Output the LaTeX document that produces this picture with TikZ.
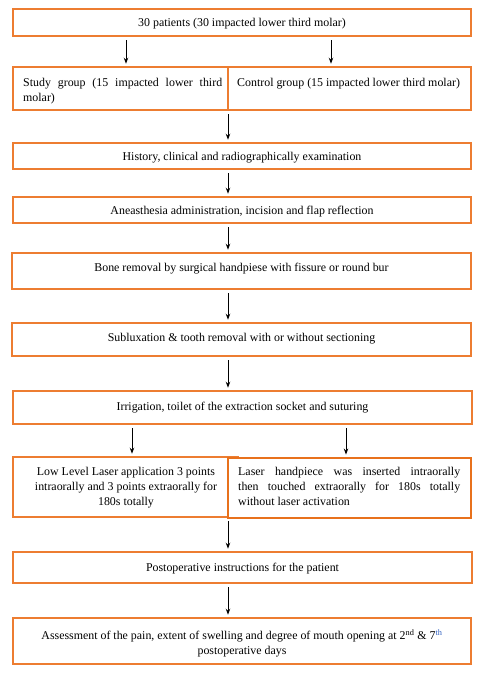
\documentclass[tikz,border=0pt]{standalone}
\usepackage{fontspec}
\setmainfont{Liberation Serif}
\usetikzlibrary{arrows.meta}
\definecolor{boxorange}{HTML}{ED7D31}
\definecolor{boxorangedark}{HTML}{E8711C}
\definecolor{supblue}{HTML}{3060C0}
\tikzset{
  box/.style={draw=boxorange, line width=2.6pt, fill=white, inner sep=0pt},
  boxdark/.style={draw=boxorangedark, line width=2.9pt, fill=white, inner sep=0pt},
  txt/.style={font=\fontsize{11.9}{14.8}\selectfont, inner sep=0pt},
  arr/.style={-{Stealth[length=6pt,width=4.5pt]}, line width=0.9pt, black, shorten <=3pt, shorten >=2pt}
}
\begin{document}
\begin{tikzpicture}[x=1pt,y=-1pt]
\useasboundingbox[fill=white] (0,0) rectangle (500,675);
% boxes
\node[box, minimum width=458pt, minimum height=27pt] (top) at (242,22.5) {};
\node[txt] (topt) at (242,24) {30 patients (30 impacted lower third molar)};
\node[box, minimum width=215pt, minimum height=43pt] (study) at (120.5,88.5) {};
\node[box, minimum width=243pt, minimum height=43pt] (control) at (349.5,88.5) {};
\node[txt, anchor=north west, text width=199pt, align=justify] (studyt) at (23,78) {Study group (15 impacted lower third\linebreak molar)};
\node[txt, anchor=north west] (controlt) at (237,78) {Control group (15 impacted lower third molar)};
\node[box, minimum width=458pt, minimum height=26pt] (hist) at (242,156) {};
\node[txt] (histt) at (242,158) {History, clinical and radiographically examination};
\node[box, minimum width=458pt, minimum height=26pt] (anest) at (242,210) {};
\node[txt] (anestt) at (242,212) {Aneasthesia administration, incision and flap reflection};
\node[box, minimum width=459pt, minimum height=36pt] (bone) at (241.5,271) {};
\node[txt] (bonet) at (241.5,268.5) {Bone removal by surgical handpiese with fissure or round bur};
\node[box, minimum width=459pt, minimum height=33pt] (sub) at (241.5,339.5) {};
\node[txt] (subt) at (241.5,339) {Subluxation \& tooth removal with or without sectioning};
\node[box, minimum width=459pt, minimum height=33pt] (irr) at (242.5,407.5) {};
\node[txt] (irrt) at (242.5,408) {Irrigation, toilet of the extraction socket and suturing};
\node[box, minimum width=225pt, minimum height=60pt] (laserl) at (125.5,487) {};
\node[txt, anchor=north, align=center] (laserlt) at (126,467.5) {Low Level Laser application 3 points\\intraorally and 3 points extraorally for\\180s totally};
\node[boxdark, minimum width=243pt, minimum height=60pt] (laserr) at (349.5,488) {};
\node[txt, anchor=north west, text width=222pt, align=justify] (laserrt) at (238,467) {Laser handpiece was inserted intraorally\linebreak then touched extraorally for 180s totally\linebreak without laser activation};
\node[box, minimum width=459pt, minimum height=31pt] (postop) at (242.5,567.5) {};
\node[txt] (postopt) at (242.5,568.5) {Postoperative instructions for the patient};
\node[box, minimum width=458pt, minimum height=46pt] (assess) at (242,641) {};
\node[txt, align=center] (assesst) at (242,643) {Assessment of the pain, extent of swelling and degree of mouth opening at 2\textsuperscript{nd} \& 7\textsuperscript{\color{supblue}th}\\postoperative days};
% arrows
\draw[arr] (126,0 |- top.south) -- (126,0 |- study.north);
\draw[arr] (331,0 |- top.south) -- (331,0 |- control.north);
\draw[arr] (228,0 |- study.south) -- (228,0 |- hist.north);
\draw[arr] (228,0 |- hist.south) -- (228,0 |- anest.north);
\draw[arr] (228,0 |- anest.south) -- (228,0 |- bone.north);
\draw[arr] (228,0 |- bone.south) -- (228,0 |- sub.north);
\draw[arr] (228,0 |- sub.south) -- (228,0 |- irr.north);
\draw[arr] (132,0 |- irr.south) -- (132,0 |- laserl.north);
\draw[arr] (346,0 |- irr.south) -- (346,0 |- laserr.north);
\draw[arr] (228,0 |- laserl.south) -- (228,0 |- postop.north);
\draw[arr] (228,0 |- postop.south) -- (228,0 |- assess.north);
\end{tikzpicture}
\end{document}
